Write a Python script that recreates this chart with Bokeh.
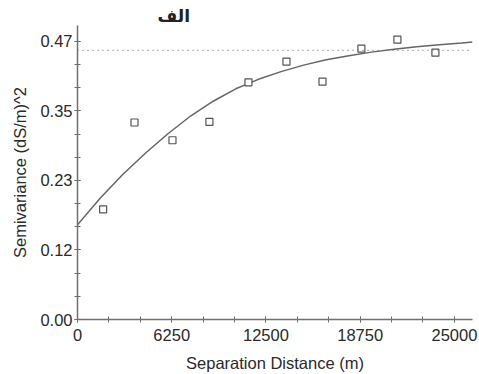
from bokeh.plotting import figure
from bokeh.models import Range1d, FixedTicker, Span
from bokeh.embed import file_html
from bokeh.resources import INLINE

# Experimental semivariance (lag distance in m, semivariance in (dS/m)^2)
lag_distance = [1700, 3780, 6300, 8750, 11340, 13860, 16250, 18830, 21220, 23740]
semivariance = [0.186, 0.333, 0.303, 0.334, 0.401, 0.436, 0.402, 0.458, 0.473, 0.451]

# Fitted model curve, sampled along the lag axis
model_distance = [0, 1500, 3000, 4500, 6000, 7500, 9000, 10500, 12000, 13500,
                  15000, 16500, 18000, 19500, 21000, 22500, 24000, 25500, 26200]
model_gamma = [0.160, 0.205, 0.245, 0.281, 0.314, 0.344, 0.369, 0.390, 0.406, 0.419,
               0.430, 0.439, 0.446, 0.452, 0.457, 0.461, 0.4645, 0.4675, 0.469]

# Sample variance (dotted reference line)
sample_variance = 0.455

x_ticks = [0, 6250, 12500, 18750, 25000]
y_ticks = [0.0, 0.1175, 0.235, 0.3525, 0.47]
y_tick_labels = ["0.00", "0.12", "0.23", "0.35", "0.47"]

FONT = "Liberation Sans"
TEXT = "#2a2a2a"
AXIS = "#707070"

p = figure(width=479, height=374, output_backend="svg", toolbar_location=None,
           title="الف",
           x_range=Range1d(0, 26200), y_range=Range1d(0, 0.497),
           min_border_left=77, min_border_right=7, min_border_top=25,
           min_border_bottom=55)
p.outline_line_color = None
p.xgrid.visible = False
p.ygrid.visible = False

p.title.align = "left"
p.title.offset = 80
p.title.standoff = 0
p.title.vertical_align = "bottom"
p.title.text_line_height = 0.8
p.title.text_font = "DejaVu Sans"
p.title.text_font_size = "17px"
p.title.text_font_style = "bold"
p.title.text_color = "#222222"

x_minor = [i * 6250 / 3 for i in range(13)]
y_minor = [i * 0.1175 / 3 for i in range(13)]
p.xaxis.ticker = FixedTicker(ticks=x_ticks, minor_ticks=x_minor)
p.yaxis.ticker = FixedTicker(ticks=y_ticks, minor_ticks=y_minor)
p.yaxis.major_label_overrides = {t: s for t, s in zip(y_ticks, y_tick_labels)}
p.xaxis.major_label_overrides = {t: str(t) for t in x_ticks}

p.xaxis.axis_label = "Separation Distance (m)"
p.yaxis.axis_label = "Semivariance (dS/m)^2"

for ax in (p.xaxis[0], p.yaxis[0]):
    ax.axis_line_color = AXIS
    ax.axis_line_width = 1.5
    ax.major_tick_line_color = AXIS
    ax.minor_tick_line_color = AXIS
    ax.major_tick_in = 3
    ax.major_tick_out = 3
    ax.minor_tick_in = 3
    ax.minor_tick_out = 3
    ax.major_label_text_font = FONT
    ax.major_label_text_font_size = "16.5px"
    ax.major_label_text_color = TEXT
    ax.axis_label_text_font = FONT
    ax.axis_label_text_font_size = "16.5px"
    ax.axis_label_text_font_style = "normal"
    ax.axis_label_text_color = TEXT

p.yaxis.major_label_standoff = 2
p.yaxis.axis_label_standoff = 8
p.xaxis.major_label_standoff = 6
p.xaxis.axis_label_standoff = 10

p.add_layout(Span(location=sample_variance, dimension="width", line_color="#777777",
                  line_width=1.2, line_dash="1 4"))

p.line(model_distance, model_gamma, line_color="#666666", line_width=1.5)
p.scatter(lag_distance, semivariance, marker="square", size=7,
          fill_color="white", line_color="#555555", line_width=1.2)

open("out.html", "w").write(file_html(p, INLINE))
